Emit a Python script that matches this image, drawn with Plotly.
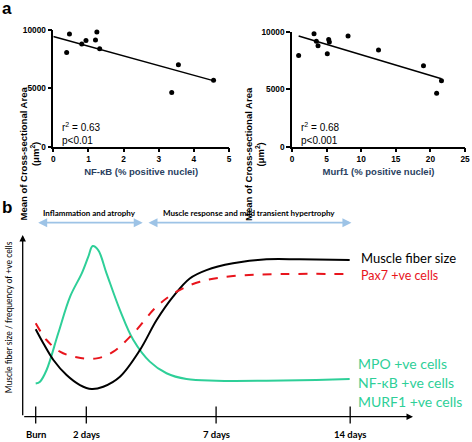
import plotly.graph_objects as go

W, H = 472, 442

# ---- Panel a data ----
nfkb_x = [0.38, 0.46, 0.81, 0.93, 1.20, 1.24, 1.32, 3.37, 3.56, 4.56]
nfkb_y = [8080, 9650, 8800, 9100, 9150, 9820, 8400, 4650, 7020, 5700]
nfkb_fit_x = [0.0, 4.55]
nfkb_fit_y = [9450, 5660]

murf_x = [0.96, 3.18, 3.52, 3.76, 5.10, 5.30, 5.40, 8.10, 12.5, 19.0, 20.9, 21.6]
murf_y = [7940, 9830, 9160, 8780, 8090, 9330, 9100, 9620, 8400, 7040, 4640, 5740]
murf_fit_x = [0.96, 21.6]
murf_fit_y = [9620, 5910]

# ---- Panel b data (schematic units) ----
fiber_t = [0, 0.30, 0.70, 1.22, 1.75, 2.21, 2.67, 3.33, 4.12, 4.78, 5.43, 6.09, 6.75, 7.80, 9.12, 10.43, 12.41]
fiber_v = [48.1, 40.4, 31.2, 22.9, 17.4, 15.2, 16.5, 22.0, 36.7, 53.2, 66.1, 76.1, 80.7, 84.4, 86.6, 86.6, 86.2]

pax7_t = [0, 0.43, 0.96, 1.62, 2.41, 3.07, 3.86, 4.78, 5.57, 6.49, 7.80, 9.78, 12.41]
pax7_v = [51.4, 42.2, 35.8, 32.7, 32.1, 35.8, 45.9, 60.6, 68.8, 74.3, 77.4, 78.5, 78.5]

mpo_t = [0, 0.17, 0.43, 0.89, 1.36, 1.82, 2.08, 2.25, 2.47, 2.80, 3.33, 3.86, 4.51, 5.17, 5.96, 7.14, 9.12, 11.09, 12.41]
mpo_v = [18.3, 19.3, 25.7, 45.9, 66.1, 78.9, 88.1, 93.9, 91.7, 78.9, 58.7, 42.2, 30.3, 23.9, 20.7, 19.8, 19.8, 20.2, 20.7]

tick_pos = [0, 2, 7.13, 12.43]
tick_labels = ["Burn", "2 days", "7 days", "14 days"]

phase_labels = ["Inflammation and atrophy", "Muscle response and mild transient hypertrophy"]
phase_start = [0.04, 4.4]
phase_end = [4.23, 12.48]

GREEN = "#2ecf98"
RED = "#e8141c"
BLUE = "#9dc3e6"
SANS = "Liberation Sans, Arial, sans-serif"

def fx(px):
    return px / W

def fy(py):
    return 1 - py / H

fig = go.Figure()

# panel a left
fig.add_trace(go.Scatter(x=nfkb_x, y=nfkb_y, mode="markers", marker=dict(color="black", size=5),
                         xaxis="x", yaxis="y", cliponaxis=False, showlegend=False))
fig.add_trace(go.Scatter(x=nfkb_fit_x, y=nfkb_fit_y, mode="lines", line=dict(color="black", width=1.5),
                         xaxis="x", yaxis="y", showlegend=False))
# panel a right
fig.add_trace(go.Scatter(x=murf_x, y=murf_y, mode="markers", marker=dict(color="black", size=5),
                         xaxis="x2", yaxis="y2", cliponaxis=False, showlegend=False))
fig.add_trace(go.Scatter(x=murf_fit_x, y=murf_fit_y, mode="lines", line=dict(color="black", width=1.5),
                         xaxis="x2", yaxis="y2", showlegend=False))
# panel b
fig.add_trace(go.Scatter(x=mpo_t, y=mpo_v, mode="lines", line=dict(color=GREEN, width=2, shape="spline"),
                         xaxis="x3", yaxis="y3", showlegend=False))
fig.add_trace(go.Scatter(x=fiber_t, y=fiber_v, mode="lines", line=dict(color="black", width=2, shape="spline"),
                         xaxis="x3", yaxis="y3", showlegend=False))
fig.add_trace(go.Scatter(x=pax7_t, y=pax7_v, mode="lines", line=dict(color=RED, width=2, shape="spline", dash="dash"),
                         xaxis="x3", yaxis="y3", showlegend=False))

common = dict(showline=True, linecolor="black", linewidth=1.5, ticks="outside", ticklen=4,
              tickwidth=1.5, tickcolor="black", showgrid=False, zeroline=False, tickformat="d",
              automargin=False,
              tickfont=dict(family=SANS, size=8.3, color="black", weight="bold"))

# x px mapping b: px = 35.7 + 25.3*t
x3_range = [(0 - 35.7) / 25.3, (472 - 35.7) / 25.3]
# y px mapping b: py = 416.7 - 1.817*v ; domain px 205..442
y3_range = [(416.7 - 442) / 1.817, (416.7 - 205) / 1.817]

fig.update_layout(
    width=W, height=H, autosize=False,
    margin=dict(l=0, r=0, t=0, b=0),
    paper_bgcolor="white", plot_bgcolor="white",
    xaxis=dict(domain=[fx(53.3), fx(229)], range=[0, 5], tickvals=[0, 1, 2, 3, 4, 5], anchor="y",
               title=dict(text="<b>NF-κB (% positive nuclei)</b>", font=dict(family=SANS, size=9.5), standoff=5),
               **common),
    yaxis=dict(domain=[fy(146.7), fy(30)], range=[0, 10000], tickvals=[0, 5000, 10000], anchor="x", **common),
    xaxis2=dict(domain=[fx(292), fx(465)], range=[0, 25], tickvals=[0, 5, 10, 15, 20, 25], anchor="y2",
                title=dict(text="<b>Murf1 (% positive nuclei)</b>", font=dict(family=SANS, size=9.5), standoff=5),
                **common),
    yaxis2=dict(domain=[fy(146.7), fy(31.7)], range=[0, 10000], tickvals=[0, 5000, 10000], anchor="x2", **common),
    xaxis3=dict(domain=[0, 1], range=x3_range, visible=False, anchor="y3"),
    yaxis3=dict(domain=[0, fy(205)], range=y3_range, visible=False, anchor="x3"),
)

ann = []
shapes = []
# panel labels
ann.append(dict(text="<b>a</b>", x=0, y=fy(8), xref="paper", yref="paper", xanchor="left", yanchor="middle",
                showarrow=False, font=dict(family=SANS, size=17, color="black")))
ann.append(dict(text="<b>b</b>", x=0, y=fy(207), xref="paper", yref="paper", xanchor="left", yanchor="middle",
                showarrow=False, font=dict(family=SANS, size=17, color="black")))
# y titles panel a
for cx in [15, 254]:
    ann.append(dict(text="<b>Mean of Cross-sectional Area<br>(μm<sup>2</sup>)</b>", x=fx(cx), y=fy(85),
                    xref="paper", yref="paper", textangle=-90, showarrow=False,
                    font=dict(family=SANS, size=9.5, color="black")))
# stats
ann.append(dict(text="r<sup>2</sup> = 0.63<br>p<0.01", x=fx(60), y=fy(133), xref="paper", yref="paper",
                xanchor="left", yanchor="middle", align="left", showarrow=False,
                font=dict(family=SANS, size=10, color="black")))
ann.append(dict(text="r<sup>2</sup> = 0.68<br>p<0.001", x=fx(299), y=fy(133), xref="paper", yref="paper",
                xanchor="left", yanchor="middle", align="left", showarrow=False,
                font=dict(family=SANS, size=10, color="black")))

# panel b axes arrows
y_ax_x = (22.7 - 35.7) / 25.3
x_ax_end = (413 - 35.7) / 25.3
y_ax_top = (416.7 - 235) / 1.817
ann.append(dict(x=y_ax_x, y=y_ax_top, ax=y_ax_x, ay=0, xref="x3", yref="y3", axref="x3", ayref="y3",
                showarrow=True, arrowhead=2, arrowsize=1, arrowwidth=1.3, arrowcolor="black", text=""))
ann.append(dict(x=x_ax_end, y=0, ax=y_ax_x, ay=0, xref="x3", yref="y3", axref="x3", ayref="y3",
                showarrow=True, arrowhead=2, arrowsize=1, arrowwidth=1.3, arrowcolor="black", text=""))
# ticks
for tp, tl in zip(tick_pos, tick_labels):
    shapes.append(dict(type="line", xref="x3", yref="y3", x0=tp, x1=tp, y0=(416.7 - 423.5) / 1.817,
                       y1=(416.7 - 406.5) / 1.817, line=dict(color="black", width=1.3)))
    ann.append(dict(text=tl, x=tp, y=(416.7 - 434) / 1.817, xref="x3", yref="y3", showarrow=False,
                    xanchor="center", yanchor="middle",
                    font=dict(family="Lato", size=9.5, color="black", weight="bold")))
# y title b
ann.append(dict(text="Muscle fiber size / frequency of +ve cells", x=(9.3 - 35.7) / 25.3, y=(416.7 - 317) / 1.817,
                xref="x3", yref="y3", textangle=-90, showarrow=False,
                font=dict(family="Lato", size=8.5, color="black")))
# phase arrows
arrow_v = (416.7 - 222.7) / 1.817
text_v = (416.7 - 212.7) / 1.817
for lab, s, e in zip(phase_labels, phase_start, phase_end):
    ann.append(dict(x=e, y=arrow_v, ax=s, ay=arrow_v, xref="x3", yref="y3", axref="x3", ayref="y3",
                    showarrow=True, arrowhead=2, startarrowhead=2, arrowside="end+start", arrowsize=1,
                    arrowwidth=1.8, arrowcolor=BLUE, text=""))
    ann.append(dict(text=lab, x=(s + e) / 2, y=text_v, xref="x3", yref="y3", showarrow=False,
                    font=dict(family="Lato", size=8, color="black", weight="bold")))
# curve labels
lab_x = (359 - 35.7) / 25.3
ann.append(dict(text="Muscle fiber size", x=lab_x, y=(416.7 - 257.5) / 1.817, xref="x3", yref="y3",
                xanchor="left", yanchor="middle", showarrow=False,
                font=dict(family="Lato", size=13, color="black")))
ann.append(dict(text="Pax7 +ve cells", x=lab_x, y=(416.7 - 275) / 1.817, xref="x3", yref="y3",
                xanchor="left", yanchor="middle", showarrow=False,
                font=dict(family="Lato", size=12.5, color=RED)))
for lab, py in zip(["MPO +ve cells", "NF-κB +ve cells", "MURF1 +ve cells"], [363, 382.5, 401.5]):
    ann.append(dict(text=lab, x=(356 - 35.7) / 25.3, y=(416.7 - py) / 1.817, xref="x3", yref="y3",
                    xanchor="left", yanchor="middle", showarrow=False,
                    font=dict(family="Lato", size=14, color=GREEN)))

fig.update_layout(annotations=ann, shapes=shapes)
fig.write_html("out.html", config={"displayModeBar": False},
               post_script="document.body.style.margin='0px';")
